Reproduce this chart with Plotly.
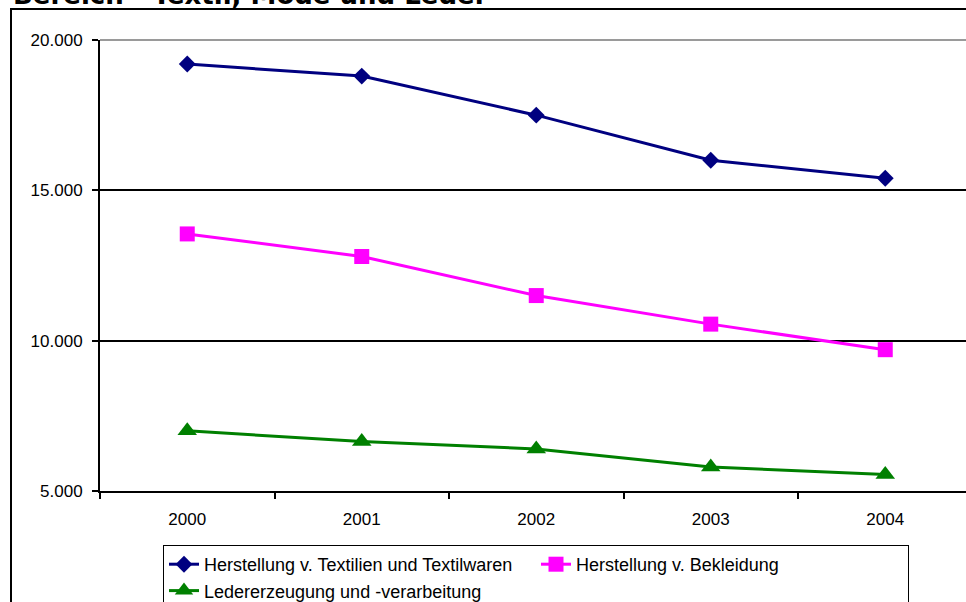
import plotly.graph_objects as go

years = ["2000", "2001", "2002", "2003", "2004"]
textilien = [19200, 18800, 17500, 16000, 15400]
bekleidung = [13550, 12800, 11500, 10550, 9700]
leder = [7000, 6650, 6400, 5800, 5550]

names = [
    "Herstellung v. Textilien und Textilwaren",
    "Herstellung v. Bekleidung",
    "Ledererzeugung und -verarbeitung",
]
title_text = "Bereich - Textil, Mode und Leder"
y_ticks = [5000, 10000, 15000, 20000]

W, H = 966, 602
L, T, B = 100, 40, 111
plot_h = H - T - B  # 451
plot_w = W - L      # 866

fig = go.Figure()
fig.add_trace(go.Scatter(x=years, y=textilien, name=names[0], mode="lines+markers",
                         line=dict(color="#000080", width=3),
                         marker=dict(symbol="diamond", size=13, color="#000080")))
fig.add_trace(go.Scatter(x=years, y=bekleidung, name=names[1], mode="lines+markers",
                         line=dict(color="#FF00FF", width=3),
                         marker=dict(symbol="square", size=15, color="#FF00FF")))
fig.add_trace(go.Scatter(x=years, y=leder, name=names[2], mode="lines+markers",
                         line=dict(color="#008000", width=3),
                         marker=dict(symbol="triangle-up", size=17, color="#008000")))

# right edge of the chart is cut off in the reference
cat_step = 174.5
x_max = -0.5 + plot_w / cat_step

fig.update_layout(
    width=W, height=H,
    margin=dict(l=L, r=0, t=T, b=B, autoexpand=False),
    paper_bgcolor="white", plot_bgcolor="white",
    separators=",.",
    font=dict(family="Liberation Sans, Arial, sans-serif", size=17, color="black"),
    title=dict(text="<b>" + title_text + "</b>", font=dict(family="DejaVu Sans", size=26, color="black"),
               x=13 / W, xanchor="left", xref="container",
               y=1 - 4 / H, yanchor="bottom", yref="container"),
    xaxis=dict(type="category", range=[-0.5, x_max], tickson="boundaries",
               ticks="outside", ticklen=6, tickwidth=1.5, tickcolor="black",
               showline=True, linecolor="black", linewidth=2,
               showgrid=False, ticklabelstandoff=12,
               tickfont=dict(size=17)),
    yaxis=dict(range=[5000, 20000], tickvals=y_ticks, tickformat=",d",
               ticks="outside", ticklen=6, tickwidth=1.5, tickcolor="black",
               showline=True, linecolor="black", linewidth=2,
               showgrid=True, gridcolor="black", gridwidth=1.5,
               zeroline=False, ticklabelstandoff=6,
               tickfont=dict(size=17)),
    showlegend=True,
    legend=dict(orientation="h", x=(163 - L) / plot_w, xanchor="left",
                y=(H - B - 545) / plot_h, yanchor="top",
                bordercolor="black", borderwidth=1, bgcolor="white",
                entrywidth=327, entrywidthmode="pixels",
                font=dict(size=18), itemclick=False),
    shapes=[
        # chart-area border (cut off at right and bottom)
        dict(type="rect", xref="paper", yref="paper",
             x0=(11 - L) / plot_w, x1=1.05,
             y0=-0.3, y1=1 + (T - 9) / plot_h,
             line=dict(color="black", width=2), layer="below"),
        # grey plot-area top edge
        dict(type="line", xref="paper", yref="paper", x0=0, x1=1, y0=1, y1=1,
             line=dict(color="#9a9a9a", width=2)),
    ],
)

fig.write_html("out.html", config={"displayModeBar": False},
               post_script="document.body.style.margin='0px';document.body.style.overflow='hidden';")
